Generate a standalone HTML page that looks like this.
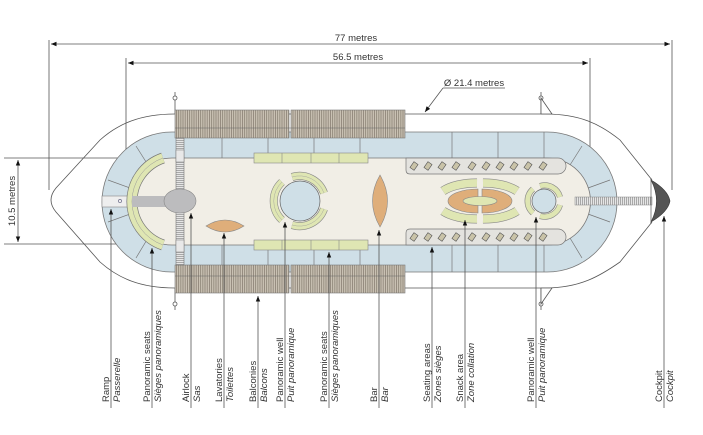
<!DOCTYPE html>
<html><head><style>
html,body{margin:0;padding:0;background:#fff;}
svg{display:block;font-family:"Liberation Sans",sans-serif;}
.lbl{font-size:9.5px;fill:#333;}
.it{font-style:italic;}
</style></head><body>
<svg width="703" height="435" viewBox="0 0 703 435" xmlns="http://www.w3.org/2000/svg">
<defs>
<pattern id="str" width="2.2" height="10" patternUnits="userSpaceOnUse"><rect width="2.2" height="10" fill="#c9c1b3"/><rect width="0.8" height="10" fill="#8a8174"/></pattern>
<pattern id="str2" width="2" height="10" patternUnits="userSpaceOnUse"><rect width="2" height="10" fill="#e6e6e6"/><rect width="0.8" height="10" fill="#999"/></pattern>
<pattern id="str3" width="10" height="2" patternUnits="userSpaceOnUse"><rect width="10" height="2" fill="#e6e6e6"/><rect width="10" height="0.8" fill="#999"/></pattern>
<marker id="ar" viewBox="0 0 10 10" refX="10" refY="5" markerWidth="7" markerHeight="7" orient="auto-start-reverse"><path d="M0,1 L10,5 L0,9 Z" fill="#111"/></marker>
</defs>
<g stroke="#555" stroke-width="0.8" fill="none">
<line x1="49" y1="40" x2="49" y2="190"/>
<line x1="672" y1="40" x2="672" y2="190"/>
<line x1="51" y1="44" x2="670" y2="44" marker-start="url(#ar)" marker-end="url(#ar)"/>
<line x1="126" y1="58" x2="126" y2="200"/>
<line x1="590" y1="58" x2="590" y2="200"/>
<line x1="128" y1="63" x2="588" y2="63" marker-start="url(#ar)" marker-end="url(#ar)"/>
<line x1="443" y1="88" x2="505" y2="88"/>
<line x1="443" y1="88" x2="425" y2="112" marker-end="url(#ar)"/>
<line x1="4" y1="158" x2="130" y2="158"/>
<line x1="4" y1="244" x2="130" y2="244"/>
<line x1="18" y1="160" x2="18" y2="242" marker-start="url(#ar)" marker-end="url(#ar)"/>
<path d="M175,114 C140,114 118,124 100,140 L56,188 Q46,200 56,212 L100,262 C118,278 140,288 175,288 L545,288 C580,288 600,276 620,262 L652,222"/>
<path d="M652,180 L620,140 C600,124 580,114 545,114 L175,114"/>
<line x1="175" y1="92" x2="175" y2="114"/><circle cx="175" cy="98" r="2" fill="#fff"/>
<line x1="175" y1="288" x2="175" y2="310"/><circle cx="175" cy="304" r="2" fill="#fff"/>
<line x1="541" y1="92" x2="541" y2="114"/><circle cx="541" cy="98" r="2" fill="#fff"/><path d="M541,98 L552,114 L541,114 Z" fill="#fff"/>
<line x1="541" y1="288" x2="541" y2="310"/><circle cx="541" cy="304" r="2" fill="#fff"/><path d="M541,304 L552,288 L541,288 Z" fill="#fff"/>
</g>
<path d="M172,132 L547,132 A70,70 0 0 1 547,272 L172,272 A70,70 0 0 1 172,132 Z" fill="#cfdfe7" stroke="#777" stroke-width="0.8"/>
<g stroke="#777" stroke-width="0.7">
<line x1="222" y1="132" x2="222" y2="158"/><line x1="268" y1="132" x2="268" y2="158"/><line x1="314" y1="132" x2="314" y2="158"/><line x1="360" y1="132" x2="360" y2="158"/>
<line x1="452" y1="132" x2="452" y2="158"/><line x1="498" y1="132" x2="498" y2="158"/><line x1="544" y1="132" x2="544" y2="158"/>
<line x1="222" y1="245" x2="222" y2="272"/><line x1="268" y1="245" x2="268" y2="272"/><line x1="314" y1="245" x2="314" y2="272"/><line x1="360" y1="245" x2="360" y2="272"/>
<line x1="452" y1="245" x2="452" y2="272"/><line x1="498" y1="245" x2="498" y2="272"/><line x1="544" y1="245" x2="544" y2="272"/>
<line x1="136" y1="146" x2="148" y2="165"/><line x1="108" y1="180" x2="130" y2="188"/><line x1="108" y1="222" x2="130" y2="214"/><line x1="136" y1="258" x2="148" y2="238"/>
<line x1="582" y1="146" x2="570" y2="165"/><line x1="610" y1="180" x2="588" y2="188"/><line x1="610" y1="222" x2="588" y2="214"/><line x1="582" y1="258" x2="570" y2="238"/>
</g>
<path d="M172,158 L547,158 A43.5,43.5 0 0 1 547,245 L172,245 A43.5,43.5 0 0 1 172,158 Z" fill="#f1eee6" stroke="#777" stroke-width="0.8"/>
<rect x="175" y="110" width="114" height="28" fill="url(#str)" stroke="#777" stroke-width="0.6"/>
<rect x="291" y="110" width="114" height="28" fill="url(#str)" stroke="#777" stroke-width="0.6"/>
<rect x="175" y="265" width="114" height="28" fill="url(#str)" stroke="#777" stroke-width="0.6"/>
<rect x="291" y="265" width="114" height="28" fill="url(#str)" stroke="#777" stroke-width="0.6"/>
<line x1="175" y1="128" x2="405" y2="128" stroke="#666" stroke-width="0.6"/>
<line x1="175" y1="276" x2="405" y2="276" stroke="#666" stroke-width="0.6"/>
<rect x="176" y="138" width="8" height="127" fill="url(#str3)" stroke="#777" stroke-width="0.6"/>
<rect x="176" y="150" width="8" height="12" fill="#e8e8e8" stroke="#777" stroke-width="0.5"/>
<rect x="176" y="240" width="8" height="12" fill="#e8e8e8" stroke="#777" stroke-width="0.5"/>
<rect x="102" y="196" width="30" height="11" fill="#eee" stroke="#888" stroke-width="0.6"/>
<circle cx="120" cy="201" r="1.6" fill="none" stroke="#557" stroke-width="0.6"/>
<path d="M163,158 A46,46 0 0 0 163,245" fill="none" stroke="#777" stroke-width="11"/>
<path d="M163,158 A46,46 0 0 0 163,245" fill="none" stroke="#dfe6b3" stroke-width="9.6"/>
<path d="M163,158 A46,46 0 0 0 163,245" fill="none" stroke="#999" stroke-width="0.5"/>
<rect x="132" y="196" width="48" height="11" fill="#bcbcbe"/>
<ellipse cx="180" cy="201" rx="16" ry="12" fill="#bcbcbe" stroke="#888" stroke-width="0.6"/>
<g fill="#dfe6b3" stroke="#888" stroke-width="0.6">
<rect x="254" y="153" width="114" height="10"/><line x1="282" y1="153" x2="282" y2="163"/><line x1="311" y1="153" x2="311" y2="163"/><line x1="339" y1="153" x2="339" y2="163"/>
<rect x="254" y="240" width="114" height="10"/><line x1="282" y1="240" x2="282" y2="250"/><line x1="311" y1="240" x2="311" y2="250"/><line x1="339" y1="240" x2="339" y2="250"/>
</g>
<path d="M206,226 Q225,214 244,226 Q225,238 206,226 Z" fill="#dfae7a" stroke="#888" stroke-width="0.6"/>
<circle cx="300" cy="201" r="20" fill="#cfdfe7" stroke="#666" stroke-width="0.7"/>
<g fill="none" stroke="#888" stroke-width="8"><path d="M292,177 A26,26 0 0 1 324,193"/><path d="M324,209 A26,26 0 0 1 292,225"/><path d="M282,220 A26,26 0 0 1 282,182"/></g>
<g fill="none" stroke="#dfe6b3" stroke-width="6.8"><path d="M292,177 A26,26 0 0 1 324,193"/><path d="M324,209 A26,26 0 0 1 292,225"/><path d="M282,220 A26,26 0 0 1 282,182"/></g>
<g fill="none" stroke="#999" stroke-width="0.4"><path d="M292,177 A26,26 0 0 1 324,193"/><path d="M324,209 A26,26 0 0 1 292,225"/><path d="M282,220 A26,26 0 0 1 282,182"/></g>
<path d="M380,175 Q395,201 380,227 Q365,201 380,175 Z" fill="#dfae7a" stroke="#888" stroke-width="0.6"/>
<path d="M406,158 L558,158 A8,8 0 0 1 558,174 L410,174 Q406,174 406,170 Z" fill="#e4e3df" stroke="#777" stroke-width="0.7"/>
<path d="M406,245 L558,245 A8,8 0 0 0 558,229 L410,229 Q406,229 406,233 Z" fill="#e4e3df" stroke="#777" stroke-width="0.7"/>
<g fill="#c9c3a8" stroke="#555" stroke-width="0.6">
<g transform="translate(414,166) rotate(-55)"><rect x="-3.5" y="-2.5" width="7" height="5"/></g>
<g transform="translate(428,166) rotate(-55)"><rect x="-3.5" y="-2.5" width="7" height="5"/></g>
<g transform="translate(442,166) rotate(-55)"><rect x="-3.5" y="-2.5" width="7" height="5"/></g>
<g transform="translate(456,166) rotate(-55)"><rect x="-3.5" y="-2.5" width="7" height="5"/></g>
<g transform="translate(472,166) rotate(-55)"><rect x="-3.5" y="-2.5" width="7" height="5"/></g>
<g transform="translate(486,166) rotate(-55)"><rect x="-3.5" y="-2.5" width="7" height="5"/></g>
<g transform="translate(500,166) rotate(-55)"><rect x="-3.5" y="-2.5" width="7" height="5"/></g>
<g transform="translate(514,166) rotate(-55)"><rect x="-3.5" y="-2.5" width="7" height="5"/></g>
<g transform="translate(528,166) rotate(-55)"><rect x="-3.5" y="-2.5" width="7" height="5"/></g>
<g transform="translate(543,166) rotate(-55)"><rect x="-3.5" y="-2.5" width="7" height="5"/></g>
<g transform="translate(414,237) rotate(-55)"><rect x="-3.5" y="-2.5" width="7" height="5"/></g>
<g transform="translate(428,237) rotate(-55)"><rect x="-3.5" y="-2.5" width="7" height="5"/></g>
<g transform="translate(442,237) rotate(-55)"><rect x="-3.5" y="-2.5" width="7" height="5"/></g>
<g transform="translate(456,237) rotate(-55)"><rect x="-3.5" y="-2.5" width="7" height="5"/></g>
<g transform="translate(472,237) rotate(-55)"><rect x="-3.5" y="-2.5" width="7" height="5"/></g>
<g transform="translate(486,237) rotate(-55)"><rect x="-3.5" y="-2.5" width="7" height="5"/></g>
<g transform="translate(500,237) rotate(-55)"><rect x="-3.5" y="-2.5" width="7" height="5"/></g>
<g transform="translate(514,237) rotate(-55)"><rect x="-3.5" y="-2.5" width="7" height="5"/></g>
<g transform="translate(528,237) rotate(-55)"><rect x="-3.5" y="-2.5" width="7" height="5"/></g>
<g transform="translate(543,237) rotate(-55)"><rect x="-3.5" y="-2.5" width="7" height="5"/></g>
</g>
<g fill="none" stroke="#888" stroke-width="9"><path d="M443,191 A40,18 0 0 1 477,183"/><path d="M483,183 A40,18 0 0 1 517,191"/><path d="M443,211 A40,18 0 0 0 477,219"/><path d="M483,219 A40,18 0 0 0 517,211"/></g>
<g fill="none" stroke="#dfe6b3" stroke-width="7.8"><path d="M443,191 A40,18 0 0 1 477,183"/><path d="M483,183 A40,18 0 0 1 517,191"/><path d="M443,211 A40,18 0 0 0 477,219"/><path d="M483,219 A40,18 0 0 0 517,211"/></g>
<path d="M478,189 A30,12 0 0 0 478,213 Z" fill="#dfae7a" stroke="#888" stroke-width="0.6"/>
<path d="M482,189 A30,12 0 0 1 482,213 Z" fill="#dfae7a" stroke="#888" stroke-width="0.6"/>
<ellipse cx="480" cy="201" rx="17" ry="4.5" fill="#dfe6b3" stroke="#888" stroke-width="0.6"/>
<circle cx="544" cy="201" r="12" fill="#cfdfe7" stroke="#666" stroke-width="0.7"/>
<g fill="none" stroke="#888" stroke-width="6"><path d="M540,186 A16,16 0 0 1 560,197"/><path d="M560,205 A16,16 0 0 1 540,216"/><path d="M533,213 A16,16 0 0 1 533,189"/></g>
<g fill="none" stroke="#dfe6b3" stroke-width="4.8"><path d="M540,186 A16,16 0 0 1 560,197"/><path d="M560,205 A16,16 0 0 1 540,216"/><path d="M533,213 A16,16 0 0 1 533,189"/></g>
<rect x="575" y="197" width="77" height="8" fill="url(#str2)" stroke="#888" stroke-width="0.5"/>
<path d="M651,180 Q668,190 670,201 Q668,212 651,222 Q662,201 651,180 Z" fill="#555" stroke="#333" stroke-width="0.6"/>
<line x1="651" y1="178" x2="651" y2="224" stroke="#555" stroke-width="0.7"/>
<g stroke="#555" stroke-width="0.8" marker-start="url(#ar)">
<line x1="111" y1="209" x2="111" y2="408"/>
<line x1="152" y1="248" x2="152" y2="408"/>
<line x1="191" y1="213" x2="191" y2="408"/>
<line x1="224" y1="233" x2="224" y2="408"/>
<line x1="258" y1="296" x2="258" y2="408"/>
<line x1="285" y1="222" x2="285" y2="408"/>
<line x1="329" y1="252" x2="329" y2="408"/>
<line x1="379" y1="230" x2="379" y2="408"/>
<line x1="432" y1="247" x2="432" y2="408"/>
<line x1="465" y1="220" x2="465" y2="408"/>
<line x1="536" y1="217" x2="536" y2="408"/>
<line x1="664" y1="216" x2="664" y2="408"/>
</g>
<text x="356" y="41" class="lbl" text-anchor="middle">77 metres</text>
<text x="358" y="60" class="lbl" text-anchor="middle">56.5 metres</text>
<text x="474" y="86" class="lbl" text-anchor="middle">Ø 21.4 metres</text>
<text transform="translate(15,201) rotate(-90)" class="lbl" text-anchor="middle">10.5 metres</text>
<g class="lbl">
<text transform="translate(109,402) rotate(-90)">Ramp</text>
<text transform="translate(120,402) rotate(-90)" class="it">Passerelle</text>
<text transform="translate(150,402) rotate(-90)">Panoramic seats</text>
<text transform="translate(161,402) rotate(-90)" class="it">Sièges panoramiques</text>
<text transform="translate(189,402) rotate(-90)">Airlock</text>
<text transform="translate(200,402) rotate(-90)" class="it">Sas</text>
<text transform="translate(222,402) rotate(-90)">Lavatories</text>
<text transform="translate(233,402) rotate(-90)" class="it">Toilettes</text>
<text transform="translate(256,402) rotate(-90)">Balconies</text>
<text transform="translate(267,402) rotate(-90)" class="it">Balcons</text>
<text transform="translate(283,402) rotate(-90)">Panoramic well</text>
<text transform="translate(294,402) rotate(-90)" class="it">Puit panoramique</text>
<text transform="translate(327,402) rotate(-90)">Panoramic seats</text>
<text transform="translate(338,402) rotate(-90)" class="it">Sièges panoramiques</text>
<text transform="translate(377,402) rotate(-90)">Bar</text>
<text transform="translate(388,402) rotate(-90)" class="it">Bar</text>
<text transform="translate(430,402) rotate(-90)">Seating areas</text>
<text transform="translate(441,402) rotate(-90)" class="it">Zones sièges</text>
<text transform="translate(463,402) rotate(-90)">Snack area</text>
<text transform="translate(474,402) rotate(-90)" class="it">Zone collation</text>
<text transform="translate(534,402) rotate(-90)">Panoramic well</text>
<text transform="translate(545,402) rotate(-90)" class="it">Puit panoramique</text>
<text transform="translate(662,402) rotate(-90)">Cockpit</text>
<text transform="translate(673,402) rotate(-90)" class="it">Cockpit</text>
</g>
</svg>
</body></html>
